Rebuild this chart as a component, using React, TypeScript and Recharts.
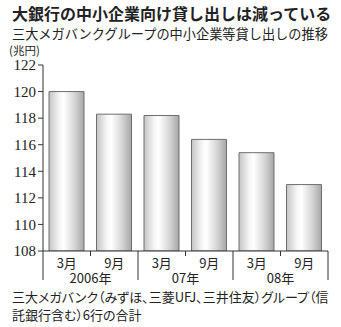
import { BarChart, Bar, XAxis, YAxis } from 'recharts';

const months = ['3月', '9月', '3月', '9月', '3月', '9月'];
const years = ['2006年', '07年', '08年'];
const loans = [120.0, 118.3, 118.2, 116.4, 115.4, 113.0];
const yTicks = [108, 110, 112, 114, 116, 118, 120, 122];

const data = months.map((m, i) => ({ month: m, value: loans[i] }));

const JP = '"Noto Sans CJK JP", "Noto Sans", sans-serif';
const BAND = 285 / 6;

/* eslint-disable @typescript-eslint/no-explicit-any */
function MonthTick({ x, y, payload, index }: any) {
  const left = x - BAND / 2;
  const isGroupStart = index % 2 === 0;
  return (
    <g>
      {isGroupStart ? (
        <line x1={left} y1={y - 8} x2={left} y2={y + 21} stroke="#333" strokeWidth={1} />
      ) : (
        <line x1={left} y1={y - 8} x2={left} y2={y - 3} stroke="#333" strokeWidth={1} />
      )}
      {index === months.length - 1 && (
        <line x1={x + BAND / 2} y1={y - 8} x2={x + BAND / 2} y2={y + 21} stroke="#333" strokeWidth={1} />
      )}
      <text x={x} y={y + 9} textAnchor="middle" fontSize={13} fontFamily={JP} fill="#222">
        {payload.value}
      </text>
      {!isGroupStart && (
        <text x={left} y={y + 24} textAnchor="middle" fontSize={13} fontFamily={JP} fill="#222">
          {years[(index - 1) / 2]}
        </text>
      )}
    </g>
  );
}
/* eslint-enable @typescript-eslint/no-explicit-any */

export default function App() {
  return (
    <div style={{ position: 'absolute', left: 0, top: 0, width: 341, height: 327, background: '#fff', fontFamily: JP, color: '#222' }}>
      <div style={{ position: 'absolute', left: 12, top: 5, fontSize: 16, fontWeight: 700, whiteSpace: 'nowrap', lineHeight: '16px' }}>
        大銀行の中小企業向け貸し出しは減っている
      </div>
      <div style={{ position: 'absolute', left: 12, top: 27, fontSize: 13.2, whiteSpace: 'nowrap', lineHeight: '14px' }}>
        三大メガバンクグループの中小企業等貸し出しの推移
      </div>
      <div style={{ position: 'absolute', left: 9, top: 44, fontSize: 11.5, whiteSpace: 'nowrap', lineHeight: '12px' }}>
        (兆円)
      </div>
      <div style={{ position: 'absolute', left: 0, top: 0 }}>
        <BarChart
          width={341}
          height={327}
          data={data}
          margin={{ top: 65, right: 13, left: 3, bottom: 46 }}
          barSize={35}
        >
          <defs>
            <linearGradient id="barShade" x1="0" y1="0" x2="1" y2="0">
              <stop offset="0%" stopColor="#c4c4c4" />
              <stop offset="30%" stopColor="#f6f6f6" />
              <stop offset="42%" stopColor="#ffffff" />
              <stop offset="75%" stopColor="#d2d2d2" />
              <stop offset="100%" stopColor="#a6a6a6" />
            </linearGradient>
          </defs>
          <XAxis
            dataKey="month"
            axisLine={{ stroke: '#333' }}
            tickLine={false}
            tick={<MonthTick />}
            interval={0}
            height={30}
          />
          <YAxis
            domain={[108, 122]}
            ticks={yTicks}
            interval={0}
            width={40}
            allowDataOverflow
            axisLine={{ stroke: '#333' }}
            tickLine={{ stroke: '#333' }}
            tickSize={5}
            tick={{ fontSize: 15, fontFamily: '"Liberation Serif", serif', fill: '#222' }}
          />
          <Bar dataKey="value" fill="url(#barShade)" stroke="#6e6e6e" strokeWidth={1} isAnimationActive={false} />
        </BarChart>
      </div>
      <div
        style={{
          position: 'absolute',
          left: 12,
          top: 288,
          fontSize: 13,
          lineHeight: '18px',
          whiteSpace: 'nowrap',
          fontFeatureSettings: '"palt"',
        }}
      >
        三大メガバンク（みずほ、三菱UFJ、三井住友）グループ（信<br />託銀行含む）6行の合計
      </div>
    </div>
  );
}
